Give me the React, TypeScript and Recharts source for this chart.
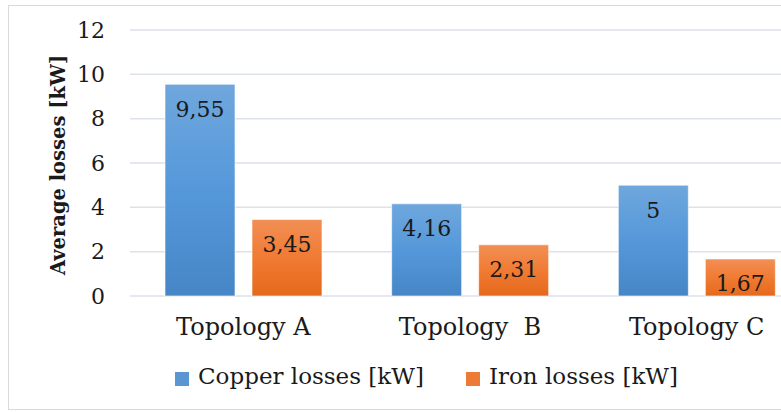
import React from 'react';
import { BarChart, Bar, XAxis, YAxis, CartesianGrid, Legend, LabelList } from 'recharts';

const categories = ['Topology A', 'Topology  B', 'Topology C'];
const copperLosses = [9.55, 4.16, 5];
const ironLosses = [3.45, 2.31, 1.67];
const yTicks = [0, 2, 4, 6, 8, 10, 12];
const seriesNames = ['Copper losses [kW]', 'Iron losses [kW]'];
const yLabel = 'Average losses [kW]';

const data = categories.map((c, i) => ({ name: c, copper: copperLosses[i], iron: ironLosses[i] }));

const FONT = '"DejaVu Serif", serif';
const fmt = (v: number) => String(v).replace('.', ',');

const BarValue = (props: any) => {
  const { x, y, width, value } = props;
  return (
    <text x={x + width / 2} y={y + 25} textAnchor="middle" dominantBaseline="central"
      fontFamily={FONT} fontSize={22} fill="#1a1a1a">{fmt(value)}</text>
  );
};

const XTick = (props: any) => {
  const { x, y, payload } = props;
  return (
    <text x={x} y={y} dy={31} textAnchor="middle" fontFamily={FONT} fontSize={24}
      fill="#1a1a1a" xmlSpace="preserve" style={{ whiteSpace: 'pre' }}>{payload.value}</text>
  );
};

const YLabel = (props: any) => {
  const { viewBox } = props;
  const cx = viewBox.x + 49;
  const cy = viewBox.y + viewBox.height / 2 + 2;
  return (
    <text x={cx} y={cy} transform={`rotate(-90, ${cx}, ${cy})`} textAnchor="middle"
      dominantBaseline="central" fontFamily={FONT} fontSize={19.5} fontWeight="bold" fill="#1a1a1a">{yLabel}</text>
  );
};

const legendColors = ['url(#gBlue)', 'url(#gOrange)'];
const legendSolid = ['#5b96d3', '#ee7b35'];

const LegendContent = () => (
  <div style={{ display: 'flex', justifyContent: 'center', alignItems: 'center', fontFamily: FONT, fontSize: 23, color: '#1a1a1a', paddingTop: 17, paddingLeft: 34 }}>
    {seriesNames.map((n, i) => (
      <div key={n} style={{ display: 'flex', alignItems: 'center', marginRight: i === 0 ? 42 : 0 }}>
        <div style={{ width: 14, height: 14, background: legendSolid[i], marginRight: 9, marginTop: 6 }} />
        <span style={{ whiteSpace: 'pre' }}>{n}</span>
      </div>
    ))}
  </div>
);

export default function App() {
  return (
    <div style={{ position: 'absolute', left: 0, top: 0, width: 781, height: 412, overflow: 'hidden', background: '#fff' }}>
      <div style={{ position: 'absolute', left: 8, top: 5, width: 836, height: 403, border: '1px solid #d9d9d9', background: '#fff' }}>
        <BarChart width={836} height={403} data={data} margin={{ top: 24, right: 35, left: 0, bottom: 0 }}
          barGap={17} barSize={70}>
          <defs>
            <linearGradient id="gBlue" x1="0" y1="0" x2="0" y2="1">
              <stop offset="0%" stopColor="#6fa7dd" />
              <stop offset="50%" stopColor="#5598da" />
              <stop offset="100%" stopColor="#4686c6" />
            </linearGradient>
            <linearGradient id="gOrange" x1="0" y1="0" x2="0" y2="1">
              <stop offset="0%" stopColor="#f28f55" />
              <stop offset="50%" stopColor="#f07b33" />
              <stop offset="100%" stopColor="#e5691c" />
            </linearGradient>
          </defs>
          <CartesianGrid vertical={false} stroke="#dde2ea" strokeWidth={1.5} />
          <XAxis dataKey="name" axisLine={false} tickLine={false} tickSize={0} tickMargin={8}
            height={50} tick={<XTick />} interval={0} />
          <YAxis width={121} domain={[0, 12]} ticks={yTicks} axisLine={false} tickLine={false}
            tickSize={0} tickMargin={25} interval={0}
            tick={{ fontFamily: FONT, fontSize: 22, fill: '#1a1a1a' }}
            label={<YLabel />} />
          <Legend verticalAlign="bottom" height={63} wrapperStyle={{ height: 63 }} content={<LegendContent />} />
          <Bar dataKey="copper" name={seriesNames[0]} fill={legendColors[0]} stroke="#ffffff" strokeOpacity={0.6} strokeWidth={1}
            isAnimationActive={false}>
            <LabelList dataKey="copper" content={<BarValue />} />
          </Bar>
          <Bar dataKey="iron" name={seriesNames[1]} fill={legendColors[1]} stroke="#ffffff" strokeOpacity={0.6} strokeWidth={1}
            isAnimationActive={false}>
            <LabelList dataKey="iron" content={<BarValue />} />
          </Bar>
        </BarChart>
      </div>
    </div>
  );
}
